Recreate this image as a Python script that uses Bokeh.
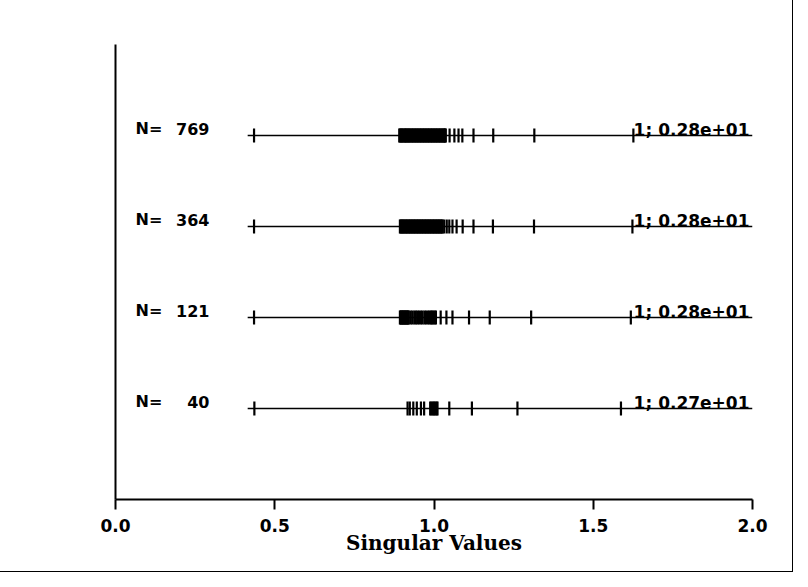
import math
from bokeh.plotting import figure
from bokeh.models import Range1d, ColumnDataSource, FixedTicker, NumeralTickFormatter
from bokeh.core.properties import value
from bokeh.embed import file_html
from bokeh.resources import INLINE

# ---- data ----
sample_sizes = [769, 364, 121, 40]
row_pos = [4, 3, 2, 1]

sv_769 = [0.435, 0.891, 0.893, 0.896, 0.898, 0.900, 0.903, 0.905, 0.908, 0.910,
          0.912, 0.914, 0.917, 0.919, 0.921, 0.924, 0.926, 0.929, 0.931, 0.934,
          0.936, 0.939, 0.941, 0.944, 0.946, 0.949, 0.951, 0.954, 0.956, 0.959,
          0.961, 0.964, 0.966, 0.969, 0.971, 0.974, 0.976, 0.979, 0.981, 0.984,
          0.986, 0.989, 0.991, 0.994, 0.996, 0.999, 1.001, 1.004, 1.006, 1.009,
          1.011, 1.014, 1.016, 1.019, 1.021, 1.024, 1.026, 1.029, 1.031, 1.033,
          1.035, 1.037, 1.049, 1.064, 1.077, 1.089, 1.124, 1.186, 1.315, 1.626, 2.8]
sv_364 = [0.435, 0.893, 0.895, 0.898, 0.900, 0.902, 0.905, 0.907, 0.910, 0.912,
          0.915, 0.917, 0.920, 0.922, 0.925, 0.927, 0.930, 0.932, 0.935, 0.937,
          0.940, 0.942, 0.945, 0.947, 0.950, 0.952, 0.955, 0.957, 0.960, 0.962,
          0.965, 0.967, 0.970, 0.972, 0.975, 0.977, 0.980, 0.982, 0.985, 0.987,
          0.990, 0.992, 0.995, 0.997, 1.000, 1.002, 1.005, 1.007, 1.010, 1.012,
          1.015, 1.017, 1.020, 1.022, 1.025, 1.027, 1.032, 1.040, 1.048, 1.058,
          1.071, 1.090, 1.124, 1.185, 1.314, 1.623, 2.8]
sv_121 = [0.435, 0.893, 0.895, 0.897, 0.899, 0.901, 0.903, 0.905, 0.907, 0.909,
          0.911, 0.913, 0.915, 0.917, 0.919, 0.921, 0.927, 0.932, 0.938, 0.943,
          0.948, 0.953, 0.959, 0.964, 0.970, 0.975, 0.981, 0.986, 0.990, 0.994,
          0.998, 1.002, 1.006, 1.021, 1.039, 1.058, 1.110, 1.175, 1.305, 1.618, 2.8]
sv_40 = [0.436, 0.917, 0.924, 0.935, 0.946, 0.959, 0.969, 0.988, 0.992, 0.996,
         1.000, 1.004, 1.008, 1.011, 1.048, 1.119, 1.262, 1.587, 2.7]
series = [sv_769, sv_364, sv_121, sv_40]

x_ticks = [0.0, 0.5, 1.0, 1.5, 2.0]
x_min, x_max = 0.0, 2.0
line_start = 0.415
x_label = "Singular Values"


def out_label(vals, limit):
    out = [v for v in vals if v > limit]
    m = max(out)
    e = math.floor(math.log10(m)) + 1
    mant = m / 10 ** e
    return f"{len(out)}; {mant:.2f}e{e:+03d}"


p = figure(width=792, height=571, output_backend="svg", toolbar_location=None,
           x_range=Range1d(x_min, x_max), y_range=Range1d(0, 5),
           min_border_left=115, min_border_right=40, min_border_top=44,
           min_border_bottom=72)
p.styles = {"outline": "1px solid black"}
p.grid.visible = False
p.outline_line_color = None
p.background_fill_color = "white"
p.border_fill_color = "white"

# x axis
xa = p.xaxis[0]
xa.ticker = FixedTicker(ticks=x_ticks)
xa.formatter = NumeralTickFormatter(format="0.0")
xa.axis_line_width = 2
xa.major_tick_line_width = 2
xa.major_tick_out = 10
xa.major_tick_in = 0
xa.minor_tick_line_color = None
xa.major_label_standoff = 9
xa.major_label_text_font = "DejaVu Sans"
xa.major_label_text_font_style = "bold"
xa.major_label_text_font_size = "17px"
xa.major_label_text_color = "black"
xa.axis_label = x_label
xa.axis_label_standoff = -4
xa.axis_label_text_font = "DejaVu Serif"
xa.axis_label_text_font_style = "bold"
xa.axis_label_text_font_size = "20px"
xa.axis_label_text_color = "black"

# y axis: bare line
ya = p.yaxis[0]
ya.ticker = FixedTicker(ticks=[])
ya.axis_line_width = 2
ya.major_tick_line_color = None
ya.minor_tick_line_color = None
ya.major_label_text_color = None

half = 0.078
seg_x, seg_y0, seg_y1 = [], [], []
lab_n_y, lab_n = [], []
out_y, out_t = [], []
for n, r, vals in zip(sample_sizes, row_pos, series):
    inside = [v for v in vals if x_min <= v <= x_max]
    for v in inside:
        seg_x.append(v)
        seg_y0.append(r - half)
        seg_y1.append(r + half)
    p.line([line_start, x_max], [r, r], line_color="black", line_width=1.5)
    lab_n_y.append(r)
    lab_n.append(str(n))
    out_y.append(r)
    out_t.append(out_label(vals, x_max))

p.segment(x0="x", y0="y0", x1="x", y1="y1",
          source=ColumnDataSource(dict(x=seg_x, y0=seg_y0, y1=seg_y1)),
          line_color="black", line_width=2.2)

p.text(x=[0.063] * len(lab_n_y), y=lab_n_y, text=["N="] * len(lab_n_y),
       text_font=value("DejaVu Sans"), text_font_style="bold",
       text_font_size="16px", text_align="left", text_baseline="alphabetic",
       y_offset=-7, text_color="black")
p.text(x=[0.295] * len(lab_n_y), y=lab_n_y, text=lab_n,
       text_font=value("DejaVu Sans"), text_font_style="bold",
       text_font_size="16px", text_align="right", text_baseline="alphabetic",
       y_offset=-7, text_color="black")
p.text(x=[x_max] * len(out_y), y=out_y, text=out_t,
       text_font=value("DejaVu Sans"), text_font_style="bold",
       text_font_size="17px", text_align="right", text_baseline="alphabetic",
       x_offset=-3, y_offset=-6, text_color="black")

open("out.html", "w").write(file_html(p, INLINE))
